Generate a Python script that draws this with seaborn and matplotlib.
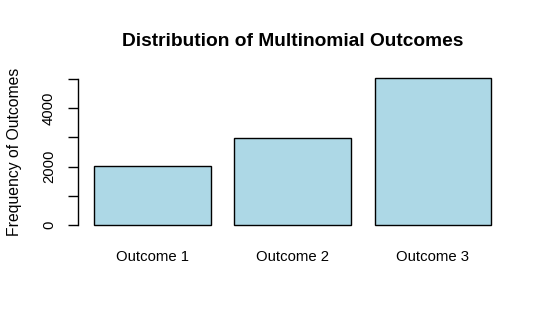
import matplotlib
matplotlib.use("Agg")
import matplotlib.pyplot as plt
import seaborn as sns
import pandas as pd

categories = ["Outcome 1", "Outcome 2", "Outcome 3"]
frequencies = [2010, 2970, 5020]
y_ticks = [0, 1000, 2000, 3000, 4000, 5000]
y_tick_labels = ["0", "", "2000", "", "4000", ""]

sns.set_theme(style="white")
plt.rcParams['font.family'] = ['Liberation Sans', 'DejaVu Sans']

df = pd.DataFrame({"Outcome": categories, "Frequency": frequencies})

fig = plt.figure(figsize=(5.48, 3.25), dpi=100)
ax = fig.add_axes([78.4 / 548, 1 - 230.9 / 325, 428.8 / 548, (230.9 - 72.6) / 325])

sns.barplot(data=df, x="Outcome", y="Frequency", color="#ADD8E6", saturation=1,
            width=1 / 1.2, edgecolor="black", linewidth=1.0, ax=ax)

ax.set_xlim(-0.53, 2.53)
ymax = max(frequencies)
ax.set_ylim(-0.04 * ymax, 1.04 * ymax)

for s in ["top", "right", "bottom"]:
    ax.spines[s].set_visible(False)
ax.spines["left"].set_bounds(0, 5000)
ax.spines["left"].set_color("black")
ax.spines["left"].set_linewidth(1.0)

ax.set_yticks(y_ticks)
ax.set_yticklabels(y_tick_labels, rotation=90, va="center", fontsize=10.7, color="black")
ax.tick_params(axis="y", which="major", length=7.2, width=1.0, color="black",
               pad=9, left=True)
ax.tick_params(axis="x", length=0, pad=13.5, labelsize=10.7, labelcolor="black")

ax.set_xlabel("")
ax.set_ylabel("Frequency of Outcomes", fontsize=11.3, color="black", labelpad=14)
ax.set_title("Distribution of Multinomial Outcomes", fontsize=13.8,
             fontweight="bold", color="black", pad=19)

fig.savefig("out.png", dpi=100)
